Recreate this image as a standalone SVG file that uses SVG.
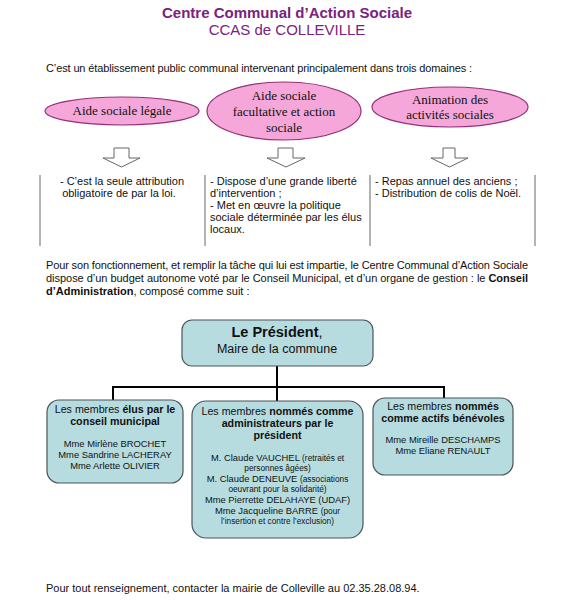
<svg xmlns="http://www.w3.org/2000/svg" width="573" height="600" viewBox="0 0 573 600">
<style>
text{font-family:"Liberation Sans",Arial,sans-serif;fill:#111}
.title{fill:#7b2180;font-size:15px}
.body{font-size:11px}
.ell{fill:#f4a7d8;stroke:#93307a;stroke-width:1.2}
.et{font-family:"Liberation Serif","Times New Roman",serif;font-size:13px;text-anchor:middle}
.arr{fill:#fff;stroke:#666;stroke-width:1}
.sep{stroke:#666;stroke-width:1}
.box{fill:#b6dce0;stroke:#4a5558;stroke-width:1.2}
.c{text-anchor:middle}
.h{font-size:10.7px}
.n{font-size:9.4px}
.s{font-size:8.3px}
.conn{stroke:#000;stroke-width:2;fill:none}
</style>
<rect width="573" height="600" fill="#fff"/>
<g id="header">
<text class="title c" x="287" y="18" font-weight="bold">Centre Communal d’Action Sociale</text>
<text class="title c" x="287" y="35">CCAS de COLLEVILLE</text>
<text class="body" x="46" y="72" textLength="426" lengthAdjust="spacing">C’est un établissement public communal intervenant principalement dans trois domaines :</text>
</g>
<g id="domaine1">
<ellipse class="ell" cx="122" cy="111" rx="77" ry="14"/>
<text class="et" x="122" y="115">Aide sociale légale</text>
</g>
<g id="domaine2">
<ellipse class="ell" cx="284" cy="111" rx="77" ry="29"/>
<text class="et" x="284" y="100">Aide sociale</text>
<text class="et" x="284" y="116">facultative et action</text>
<text class="et" x="284" y="132">sociale</text>
</g>
<g id="domaine3">
<ellipse class="ell" cx="450" cy="107" rx="78" ry="20"/>
<text class="et" x="450" y="104">Animation des</text>
<text class="et" x="450" y="119">activités sociales</text>
</g>
<g id="fleches">
<path class="arr" d="M114,148 H129 V158 H140 L121.5,167 L103,158 H114 Z"/>
<path class="arr" d="M278,148 H293 V158 H305 L286,167 L267,158 H278 Z"/>
<path class="arr" d="M443,148 H455 V158 H468 L449.5,167 L431,158 H443 Z"/>
</g>
<g id="colonnes">
<line class="sep" x1="40" y1="175" x2="40" y2="246"/>
<line class="sep" x1="205" y1="175" x2="205" y2="246"/>
<line class="sep" x1="370" y1="175" x2="370" y2="246"/>
<line class="sep" x1="535" y1="175" x2="535" y2="246"/>
<text class="body c" x="122" y="185">- C’est la seule attribution</text>
<text class="body c" x="119" y="197">obligatoire de par la loi.</text>
<text class="body" x="210" y="185">- Dispose d’une grande liberté</text>
<text class="body" x="210" y="197">d’intervention ;</text>
<text class="body" x="210" y="209">- Met en œuvre la politique</text>
<text class="body" x="210" y="221">sociale déterminée par les élus</text>
<text class="body" x="210" y="233">locaux.</text>
<text class="body" x="375" y="185">- Repas annuel des anciens ;</text>
<text class="body" x="375" y="197">- Distribution de colis de Noël.</text>
</g>
<g id="paragraphe">
<text class="body" x="46" y="269" textLength="482" lengthAdjust="spacing">Pour son fonctionnement, et remplir la tâche qui lui est impartie, le Centre Communal d’Action Sociale</text>
<text class="body" x="46" y="282" textLength="482" lengthAdjust="spacing">dispose d’un budget autonome voté par le Conseil Municipal, et d’un organe de gestion : le <tspan font-weight="bold">Conseil</tspan></text>
<text class="body" x="46" y="295"><tspan font-weight="bold">d’Administration</tspan>, composé comme suit :</text>
</g>
<g id="connecteurs">
<path class="conn" d="M277,366 V401"/>
<path class="conn" d="M113,400 V387 H444 V398"/>
</g>
<g id="president">
<rect class="box" x="182" y="320" width="191" height="46" rx="10"/>
<text class="c" x="277" y="337" font-size="14.5"><tspan font-weight="bold">Le Président</tspan>,</text>
<text class="c" x="277" y="353" font-size="12.5">Maire de la commune</text>
</g>
<g id="elus">
<rect class="box" x="47" y="400" width="136" height="83" rx="12"/>
<text class="c h" x="115" y="413">Les membres <tspan font-weight="bold">élus par le</tspan></text>
<text class="c h" x="115" y="425" font-weight="bold">conseil municipal</text>
<text class="c n" x="115" y="447">Mme Mirlène BROCHET</text>
<text class="c n" x="115" y="458">Mme Sandrine LACHERAY</text>
<text class="c n" x="115" y="469">Mme Arlette OLIVIER</text>
</g>
<g id="administrateurs">
<rect class="box" x="192" y="401" width="171" height="137" rx="14"/>
<text class="c h" x="277.5" y="415">Les membres <tspan font-weight="bold">nommés comme</tspan></text>
<text class="c h" x="277.5" y="427" font-weight="bold">administrateurs par le</text>
<text class="c h" x="277.5" y="439" font-weight="bold">président</text>
<text class="c n" x="277.5" y="461">M. Claude VAUCHEL <tspan class="s">(retraités et</tspan></text>
<text class="c s" x="277.5" y="471">personnes âgées)</text>
<text class="c n" x="277.5" y="482">M. Claude DENEUVE <tspan class="s">(associations</tspan></text>
<text class="c s" x="277.5" y="492">oeuvrant pour la solidarité)</text>
<text class="c n" x="277.5" y="503">Mme Pierrette DELAHAYE (UDAF)</text>
<text class="c n" x="277.5" y="514">Mme Jacqueline BARRE <tspan class="s">(pour</tspan></text>
<text class="c s" x="277.5" y="524">l’insertion et contre l’exclusion)</text>
</g>
<g id="benevoles">
<rect class="box" x="373" y="398" width="140" height="77" rx="12"/>
<text class="c h" x="443" y="410">Les membres <tspan font-weight="bold">nommés</tspan></text>
<text class="c h" x="443" y="422" font-weight="bold">comme actifs bénévoles</text>
<text class="c n" x="443" y="443">Mme Mireille DESCHAMPS</text>
<text class="c n" x="443" y="454">Mme Eliane RENAULT</text>
</g>
<g id="pied">
<text class="body" x="46" y="592">Pour tout renseignement, contacter la mairie de Colleville au 02.35.28.08.94.</text>
</g>
</svg>
